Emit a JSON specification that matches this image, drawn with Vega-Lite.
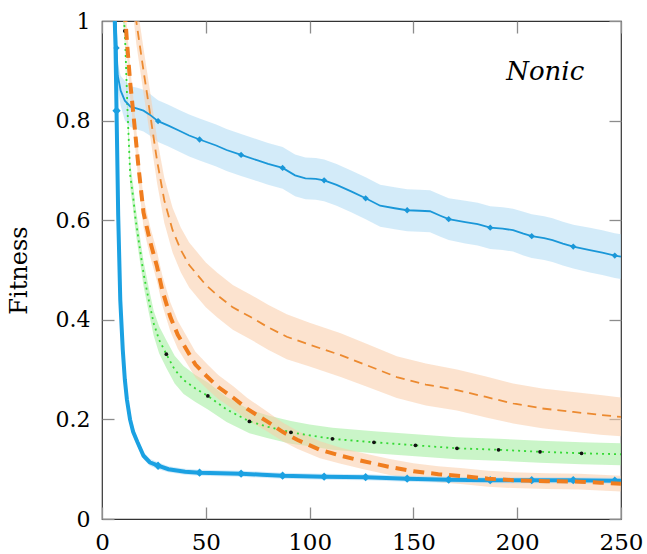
{
  "$schema": "https://vega.github.io/schema/vega-lite/v6.json",
  "width": 519,
  "height": 498,
  "autosize": {"type": "none"},
  "padding": {"left": 102, "top": 21, "right": 26, "bottom": 35},
  "background": "white",
  "config": {
    "view": {"stroke": "#333333", "strokeWidth": 1.2},
    "axis": {"grid": false, "domain": false, "tickColor": "#8c8c8c", "tickWidth": 1.3, "tickSize": -12, "labelColor": "black", "titleColor": "black"}
  },
  "datasets": {
    "tb": [
      {"x":5.8,"y":1.05,"lo":1.03,"hi":1.07},{"x":6.5,"y":0.95,"lo":0.93,"hi":0.97},{"x":7,"y":0.82,"lo":0.8,"hi":0.84,"m":1},
      {"x":7.8,"y":0.61,"lo":0.59,"hi":0.63},{"x":8.8,"y":0.44,"lo":0.42,"hi":0.46},{"x":10,"y":0.34,"lo":0.32,"hi":0.36},
      {"x":11,"y":0.28,"lo":0.265,"hi":0.295},{"x":12,"y":0.24,"lo":0.227,"hi":0.253},{"x":13.5,"y":0.2,"lo":0.19,"hi":0.21},
      {"x":15,"y":0.175,"lo":0.166,"hi":0.184},{"x":17,"y":0.155,"lo":0.147,"hi":0.163},{"x":20,"y":0.127,"lo":0.12,"hi":0.134},
      {"x":23,"y":0.114,"lo":0.107,"hi":0.121},{"x":27,"y":0.107,"lo":0.1,"hi":0.114,"m":1},{"x":32,"y":0.1,"lo":0.094,"hi":0.106},
      {"x":40,"y":0.095,"lo":0.089,"hi":0.101},{"x":47,"y":0.093,"lo":0.087,"hi":0.099,"m":1},{"x":57,"y":0.092,"lo":0.086,"hi":0.098},
      {"x":67,"y":0.091,"lo":0.085,"hi":0.097,"m":1},{"x":77,"y":0.089,"lo":0.083,"hi":0.095},{"x":87,"y":0.087,"lo":0.081,"hi":0.093,"m":1},
      {"x":107,"y":0.085,"lo":0.079,"hi":0.091,"m":1},{"x":127,"y":0.084,"lo":0.078,"hi":0.09,"m":1},{"x":147,"y":0.081,"lo":0.075,"hi":0.087,"m":1},
      {"x":167,"y":0.079,"lo":0.073,"hi":0.085,"m":1},{"x":187,"y":0.078,"lo":0.072,"hi":0.084,"m":1},{"x":207,"y":0.078,"lo":0.072,"hi":0.084,"m":1},
      {"x":227,"y":0.078,"lo":0.072,"hi":0.084,"m":1},{"x":247,"y":0.077,"lo":0.071,"hi":0.083,"m":1},{"x":250,"y":0.077,"lo":0.071,"hi":0.083}
    ],
    "nb": [
      {"x":6.3,"y":1.05,"lo":1.03,"hi":1.07},{"x":7,"y":0.946,"lo":0.926,"hi":0.966,"m":1},{"x":7.6,"y":0.89,"lo":0.865,"hi":0.915},
      {"x":9,"y":0.86,"lo":0.83,"hi":0.89},{"x":11,"y":0.84,"lo":0.8,"hi":0.88},{"x":13.7,"y":0.828,"lo":0.787,"hi":0.869},
      {"x":17,"y":0.824,"lo":0.782,"hi":0.866},{"x":20,"y":0.82,"lo":0.778,"hi":0.862},{"x":23,"y":0.812,"lo":0.77,"hi":0.854},
      {"x":27,"y":0.799,"lo":0.757,"hi":0.841,"m":1},{"x":32,"y":0.79,"lo":0.748,"hi":0.832},{"x":37,"y":0.78,"lo":0.738,"hi":0.822},
      {"x":42,"y":0.77,"lo":0.728,"hi":0.812},{"x":47,"y":0.762,"lo":0.72,"hi":0.804,"m":1},{"x":55,"y":0.75,"lo":0.708,"hi":0.792},
      {"x":60,"y":0.741,"lo":0.699,"hi":0.783},{"x":67,"y":0.731,"lo":0.689,"hi":0.773,"m":1},{"x":75,"y":0.72,"lo":0.678,"hi":0.762},
      {"x":80,"y":0.713,"lo":0.671,"hi":0.755},{"x":87,"y":0.705,"lo":0.663,"hi":0.747,"m":1},{"x":93,"y":0.69,"lo":0.648,"hi":0.732},
      {"x":98,"y":0.684,"lo":0.642,"hi":0.726},{"x":103,"y":0.683,"lo":0.641,"hi":0.725},{"x":107,"y":0.68,"lo":0.638,"hi":0.722,"m":1},
      {"x":113,"y":0.671,"lo":0.629,"hi":0.713},{"x":120,"y":0.658,"lo":0.616,"hi":0.7},{"x":127,"y":0.644,"lo":0.602,"hi":0.686,"m":1},
      {"x":134,"y":0.629,"lo":0.587,"hi":0.671},{"x":141,"y":0.624,"lo":0.582,"hi":0.666},{"x":147,"y":0.62,"lo":0.578,"hi":0.662,"m":1},
      {"x":153,"y":0.619,"lo":0.577,"hi":0.661},{"x":158,"y":0.618,"lo":0.576,"hi":0.66},{"x":163,"y":0.609,"lo":0.567,"hi":0.651},
      {"x":167,"y":0.602,"lo":0.56,"hi":0.644,"m":1},{"x":175,"y":0.596,"lo":0.553,"hi":0.639},{"x":181,"y":0.592,"lo":0.549,"hi":0.635},
      {"x":187,"y":0.585,"lo":0.542,"hi":0.628,"m":1},{"x":193,"y":0.583,"lo":0.54,"hi":0.626},{"x":198,"y":0.58,"lo":0.537,"hi":0.623},
      {"x":203,"y":0.573,"lo":0.529,"hi":0.617},{"x":207,"y":0.568,"lo":0.524,"hi":0.612,"m":1},{"x":213,"y":0.564,"lo":0.52,"hi":0.608},
      {"x":217,"y":0.56,"lo":0.516,"hi":0.604},{"x":222,"y":0.553,"lo":0.509,"hi":0.597},{"x":227,"y":0.547,"lo":0.503,"hi":0.591,"m":1},
      {"x":235,"y":0.54,"lo":0.495,"hi":0.585},{"x":241,"y":0.535,"lo":0.49,"hi":0.58},{"x":247,"y":0.529,"lo":0.484,"hi":0.574,"m":1},
      {"x":250,"y":0.527,"lo":0.482,"hi":0.572}
    ],
    "to": [
      {"x":11,"y":1.02,"lo":0.99,"hi":1.05},{"x":12,"y":0.96,"lo":0.93,"hi":0.99},{"x":13.5,"y":0.88,"lo":0.85,"hi":0.91},
      {"x":15.2,"y":0.81,"lo":0.78,"hi":0.84},{"x":17.5,"y":0.71,"lo":0.68,"hi":0.74},{"x":20,"y":0.615,"lo":0.585,"hi":0.645},
      {"x":23,"y":0.56,"lo":0.53,"hi":0.59},{"x":26.5,"y":0.507,"lo":0.477,"hi":0.537},{"x":29,"y":0.46,"lo":0.43,"hi":0.49},
      {"x":32.9,"y":0.406,"lo":0.377,"hi":0.435},{"x":36.5,"y":0.37,"lo":0.342,"hi":0.398},{"x":40.9,"y":0.339,"lo":0.312,"hi":0.366},
      {"x":45,"y":0.31,"lo":0.284,"hi":0.336},{"x":50.6,"y":0.286,"lo":0.261,"hi":0.311},{"x":56,"y":0.265,"lo":0.241,"hi":0.289},
      {"x":63.4,"y":0.243,"lo":0.22,"hi":0.266},{"x":70,"y":0.221,"lo":0.199,"hi":0.243},{"x":79.5,"y":0.196,"lo":0.176,"hi":0.216},
      {"x":87,"y":0.175,"lo":0.156,"hi":0.194},{"x":94,"y":0.159,"lo":0.141,"hi":0.177},{"x":105,"y":0.139,"lo":0.122,"hi":0.156},
      {"x":115,"y":0.127,"lo":0.111,"hi":0.143},{"x":126,"y":0.116,"lo":0.1,"hi":0.132},{"x":138,"y":0.105,"lo":0.089,"hi":0.121},
      {"x":150,"y":0.096,"lo":0.08,"hi":0.112},{"x":162,"y":0.09,"lo":0.074,"hi":0.106},{"x":174,"y":0.086,"lo":0.07,"hi":0.102},
      {"x":186,"y":0.081,"lo":0.065,"hi":0.097},{"x":198,"y":0.078,"lo":0.062,"hi":0.094},{"x":214,"y":0.076,"lo":0.06,"hi":0.092},
      {"x":230,"y":0.075,"lo":0.059,"hi":0.091},{"x":240,"y":0.073,"lo":0.057,"hi":0.089},{"x":250,"y":0.071,"lo":0.055,"hi":0.087}
    ],
    "no": [
      {"x":15.5,"y":1.04,"lo":0.995,"hi":1.085},{"x":16.5,"y":1.0,"lo":0.955,"hi":1.045},{"x":20,"y":0.9,"lo":0.855,"hi":0.945},
      {"x":23.3,"y":0.81,"lo":0.765,"hi":0.855},{"x":26.5,"y":0.72,"lo":0.675,"hi":0.765},{"x":30,"y":0.64,"lo":0.595,"hi":0.685},
      {"x":34,"y":0.58,"lo":0.535,"hi":0.625},{"x":38,"y":0.54,"lo":0.495,"hi":0.585},{"x":42,"y":0.51,"lo":0.465,"hi":0.555},
      {"x":46,"y":0.49,"lo":0.445,"hi":0.535},{"x":50,"y":0.47,"lo":0.425,"hi":0.515},{"x":55.4,"y":0.45,"lo":0.405,"hi":0.495},
      {"x":63,"y":0.425,"lo":0.38,"hi":0.47},{"x":71.4,"y":0.406,"lo":0.361,"hi":0.451},{"x":80,"y":0.385,"lo":0.34,"hi":0.43},
      {"x":89,"y":0.366,"lo":0.321,"hi":0.411},{"x":100,"y":0.35,"lo":0.306,"hi":0.394},{"x":115,"y":0.329,"lo":0.285,"hi":0.373},
      {"x":128,"y":0.308,"lo":0.265,"hi":0.351},{"x":142,"y":0.285,"lo":0.243,"hi":0.327},{"x":156,"y":0.27,"lo":0.228,"hi":0.312},
      {"x":171,"y":0.259,"lo":0.218,"hi":0.3},{"x":185,"y":0.245,"lo":0.204,"hi":0.286},{"x":198,"y":0.232,"lo":0.192,"hi":0.272},
      {"x":212,"y":0.222,"lo":0.182,"hi":0.262},{"x":227,"y":0.215,"lo":0.175,"hi":0.255},{"x":240,"y":0.209,"lo":0.169,"hi":0.249},
      {"x":250,"y":0.205,"lo":0.166,"hi":0.244}
    ],
    "g": [
      {"x":9.8,"y":1.04,"lo":1.015,"hi":1.065},{"x":11,"y":0.98,"lo":0.955,"hi":1.005,"m":1},{"x":12.3,"y":0.82,"lo":0.795,"hi":0.845},
      {"x":13.6,"y":0.69,"lo":0.665,"hi":0.715},{"x":15.2,"y":0.64,"lo":0.615,"hi":0.665},{"x":16,"y":0.607,"lo":0.582,"hi":0.632},
      {"x":18,"y":0.55,"lo":0.525,"hi":0.575},{"x":20,"y":0.493,"lo":0.468,"hi":0.518},{"x":22.5,"y":0.44,"lo":0.415,"hi":0.465},
      {"x":24.9,"y":0.393,"lo":0.368,"hi":0.418},{"x":27.5,"y":0.36,"lo":0.333,"hi":0.387},{"x":31,"y":0.331,"lo":0.303,"hi":0.359,"m":1},
      {"x":35,"y":0.3,"lo":0.272,"hi":0.328},{"x":39.3,"y":0.279,"lo":0.251,"hi":0.307},{"x":45,"y":0.262,"lo":0.235,"hi":0.289},
      {"x":51,"y":0.247,"lo":0.22,"hi":0.274,"m":1},{"x":60,"y":0.22,"lo":0.195,"hi":0.245},{"x":71,"y":0.196,"lo":0.172,"hi":0.22,"m":1},
      {"x":80,"y":0.185,"lo":0.162,"hi":0.208},{"x":91,"y":0.174,"lo":0.151,"hi":0.197,"m":1},{"x":100,"y":0.168,"lo":0.146,"hi":0.19},
      {"x":111,"y":0.161,"lo":0.139,"hi":0.183,"m":1},{"x":131,"y":0.154,"lo":0.132,"hi":0.176,"m":1},{"x":151,"y":0.148,"lo":0.126,"hi":0.17,"m":1},
      {"x":171,"y":0.142,"lo":0.12,"hi":0.164,"m":1},{"x":191,"y":0.139,"lo":0.117,"hi":0.161,"m":1},{"x":211,"y":0.135,"lo":0.113,"hi":0.157,"m":1},
      {"x":231,"y":0.132,"lo":0.11,"hi":0.154,"m":1},{"x":250,"y":0.13,"lo":0.108,"hi":0.152}
    ],
    "lab": [{"x":213.5,"y":0.881,"t":"Nonic"}]
  },
  "resolve": {"axis": {"x": "independent", "y": "independent"}},
  "layer": [
    {
      "data": {"name": "nb"},
      "mark": {"type": "area", "clip": true, "color": "#afdbf4", "opacity": 0.55},
      "encoding": {
        "x": {"field": "x", "type": "quantitative", "scale": {"domain": [0, 250], "nice": false, "zero": false},
          "axis": {"orient": "bottom", "values": [0, 50, 100, 150, 200, 250], "title": null, "labelFont": "DejaVu Serif", "labelFontSize": 23, "labelBaseline": "alphabetic", "labelPadding": 42, "labelFlush": false}},
        "y": {"field": "lo", "type": "quantitative", "scale": {"domain": [0, 1], "nice": false, "zero": false},
          "axis": {"orient": "left", "values": [0, 0.2, 0.4, 0.6, 0.8, 1], "labelExpr": "'' + datum.value", "labelFont": "DejaVu Serif", "labelFontSize": 22, "labelPadding": 24, "labelFlush": false,
            "title": "Fitness", "titleFont": "DejaVu Serif", "titleFontSize": 24, "titleFontWeight": "normal", "titleX": -83, "titleY": 249, "titleAngle": 270, "titleAlign": "center", "titleBaseline": "middle"}},
        "y2": {"field": "hi"}
      }
    },
    {
      "data": {"name": "no"},
      "mark": {"type": "area", "clip": true, "color": "#f9cca8", "opacity": 0.55},
      "encoding": {"x": {"field": "x", "type": "quantitative", "axis": null}, "y": {"field": "lo", "type": "quantitative", "axis": null}, "y2": {"field": "hi"}}
    },
    {
      "data": {"name": "g"},
      "mark": {"type": "area", "clip": true, "color": "#9fed9b", "opacity": 0.55},
      "encoding": {"x": {"field": "x", "type": "quantitative", "axis": null}, "y": {"field": "lo", "type": "quantitative", "axis": null}, "y2": {"field": "hi"}}
    },
    {
      "data": {"name": "to"},
      "mark": {"type": "area", "clip": true, "color": "#f9cca8", "opacity": 0.55},
      "encoding": {"x": {"field": "x", "type": "quantitative", "axis": null}, "y": {"field": "lo", "type": "quantitative", "axis": null}, "y2": {"field": "hi"}}
    },
    {
      "data": {"name": "tb"},
      "mark": {"type": "area", "clip": true, "color": "#afdbf4", "opacity": 0.55},
      "encoding": {"x": {"field": "x", "type": "quantitative", "axis": null}, "y": {"field": "lo", "type": "quantitative", "axis": null}, "y2": {"field": "hi"}}
    },
    {
      "data": {"name": "no"},
      "mark": {"type": "line", "clip": true, "color": "#ec8a30", "strokeWidth": 1.8, "strokeDash": [9, 6]},
      "encoding": {"x": {"field": "x", "type": "quantitative", "axis": null}, "y": {"field": "y", "type": "quantitative", "axis": null}}
    },
    {
      "data": {"name": "g"},
      "mark": {"type": "line", "clip": true, "color": "#35d935", "strokeWidth": 1.8, "strokeDash": [2, 4]},
      "encoding": {"x": {"field": "x", "type": "quantitative", "axis": null}, "y": {"field": "y", "type": "quantitative", "axis": null}}
    },
    {
      "data": {"name": "g"},
      "transform": [{"filter": "datum.m == 1"}],
      "mark": {"type": "point", "clip": true, "filled": true, "color": "#111111", "size": 14, "opacity": 1},
      "encoding": {"x": {"field": "x", "type": "quantitative", "axis": null}, "y": {"field": "y", "type": "quantitative", "axis": null}}
    },
    {
      "data": {"name": "nb"},
      "mark": {"type": "line", "clip": true, "color": "#1a97d8", "strokeWidth": 1.8},
      "encoding": {"x": {"field": "x", "type": "quantitative", "axis": null}, "y": {"field": "y", "type": "quantitative", "axis": null}}
    },
    {
      "data": {"name": "nb"},
      "transform": [{"filter": "datum.m == 1"}],
      "mark": {"type": "point", "clip": true, "filled": true, "shape": "diamond", "color": "#1a97d8", "size": 40, "opacity": 1},
      "encoding": {"x": {"field": "x", "type": "quantitative", "axis": null}, "y": {"field": "y", "type": "quantitative", "axis": null}}
    },
    {
      "data": {"name": "tb"},
      "mark": {"type": "line", "clip": true, "color": "#1ba1e2", "strokeWidth": 4},
      "encoding": {"x": {"field": "x", "type": "quantitative", "axis": null}, "y": {"field": "y", "type": "quantitative", "axis": null}}
    },
    {
      "data": {"name": "tb"},
      "transform": [{"filter": "datum.m == 1"}],
      "mark": {"type": "point", "clip": true, "filled": true, "shape": "diamond", "color": "#1ba1e2", "size": 70, "opacity": 1},
      "encoding": {"x": {"field": "x", "type": "quantitative", "axis": null}, "y": {"field": "y", "type": "quantitative", "axis": null}}
    },
    {
      "data": {"name": "to"},
      "mark": {"type": "line", "clip": true, "color": "#f07d1e", "strokeWidth": 4, "strokeDash": [11, 7]},
      "encoding": {"x": {"field": "x", "type": "quantitative", "axis": null}, "y": {"field": "y", "type": "quantitative", "axis": null}}
    },
    {
      "data": {"name": "lab"},
      "mark": {"type": "text", "font": "DejaVu Serif", "fontStyle": "italic", "fontSize": 26, "align": "center", "baseline": "alphabetic", "color": "black"},
      "encoding": {
        "x": {"field": "x", "type": "quantitative", "axis": {"orient": "top", "values": [0, 50, 100, 150, 200, 250], "labels": false, "title": null}},
        "y": {"field": "y", "type": "quantitative", "axis": {"orient": "right", "values": [0, 0.2, 0.4, 0.6, 0.8, 1], "labels": false, "title": null}},
        "text": {"field": "t"}
      }
    }
  ]
}
